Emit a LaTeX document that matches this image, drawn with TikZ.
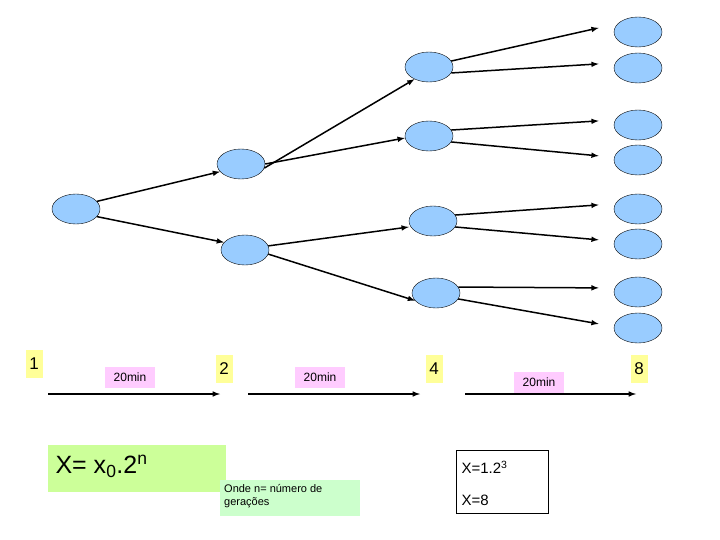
\documentclass[tikz,border=0pt]{standalone}
\usepackage{fontspec}
\setmainfont{Liberation Sans}
\usetikzlibrary{shapes.geometric}
\begin{document}
\begin{tikzpicture}[x=1pt,y=-1pt,
 cell/.style={ellipse,draw=black,fill={rgb,255:red,153;green,204;blue,255},minimum width=48pt,minimum height=30pt,inner sep=0},
 ar/.style={-latex,line width=1.5pt},
 yl/.style={fill={rgb,255:red,255;green,255;blue,153},font=\fontsize{17}{17}\selectfont,minimum width=17pt,minimum height=28pt,inner sep=0},
 pk/.style={fill={rgb,255:red,255;green,204;blue,255},font=\fontsize{12}{12}\selectfont,minimum width=50pt,minimum height=21pt,inner sep=0}]
\useasboundingbox (0,0) rectangle (720,540);
\node[cell] (a) at (76,209) {};
\node[cell] (b1) at (241,164) {};
\node[cell] (b2) at (245,250) {};
\node[cell] (c1) at (429,67) {};
\node[cell] (c2) at (429,136) {};
\node[cell] (c3) at (433,221) {};
\node[cell] (c4) at (436,293) {};
\foreach \i/\y in {1/32,2/68,3/125,4/160,5/209,6/244,7/292,8/328}{\node[cell] (d\i) at (638,\y) {};}
\draw[ar] (a.20) -- (b1.200);
\draw[ar] (a.-20) -- (b2.160);
\draw[ar] (b1.-10) -- (c1.220);
\draw[ar] (b1.0) -- ([yshift=-2pt]c2.west);
\draw[ar] (b2.10) -- ([yshift=-6pt]c3.west);
\draw[ar] (b2.-10) -- (c4.200);
\foreach \c/\u/\l in {c1/d1/d2,c2/d3/d4,c3/d5/d6,c4/d7/d8}{
 \draw[ar] (\c.15) -- ([xshift=-16pt]\u.170);
 \draw[ar] (\c.-15) -- ([xshift=-16pt]\l.170);}
\node[yl] (n1) at (34,364) {1};
\node[yl] (n2) at (224,369) {2};
\node[yl] (n4) at (434,369) {4};
\node[yl] (n8) at (639,369) {8};
\node[pk] (t1) at (130,377) {20min};
\node[pk] (t2) at (320,377) {20min};
\node[pk] (t3) at (539,382) {20min};
\coordinate (s1) at (48,394); \coordinate (e1) at (220,394);
\coordinate (s2) at (248,394); \coordinate (e2) at (420,394);
\coordinate (s3) at (465,394); \coordinate (e3) at (636,394);
\draw[ar] (s1) -- (e1); \draw[ar] (s2) -- (e2); \draw[ar] (s3) -- (e3);
\node[fill={rgb,255:red,204;green,255;blue,153},minimum width=178pt,minimum height=47pt,anchor=north west,inner sep=0] (f) at (48,445) {};
\node[anchor=west,font=\fontsize{25}{25}\selectfont] at (52,466) {X= x$_{\mathrm{0}}$.2$^{\mathrm{n}}$};
\node[fill={rgb,255:red,204;green,255;blue,204},minimum width=140pt,minimum height=36pt,anchor=north west,inner sep=0] (g) at (220,480) {};
\node[anchor=north west,align=left,font=\fontsize{11}{13}\selectfont,inner sep=2pt] at (222,482) {Onde n= número de\\gerações};
\node[draw=black,fill=white,minimum width=92pt,minimum height=63pt,anchor=north west,inner sep=0] (h) at (456,450) {};
\node[anchor=west,font=\fontsize{15}{15}\selectfont] at (458,467) {X=1.2$^{\mathrm{\scriptstyle 3}}$};
\node[anchor=west,font=\fontsize{15}{15}\selectfont] at (458,500) {X=8};
\end{tikzpicture}
\end{document}
